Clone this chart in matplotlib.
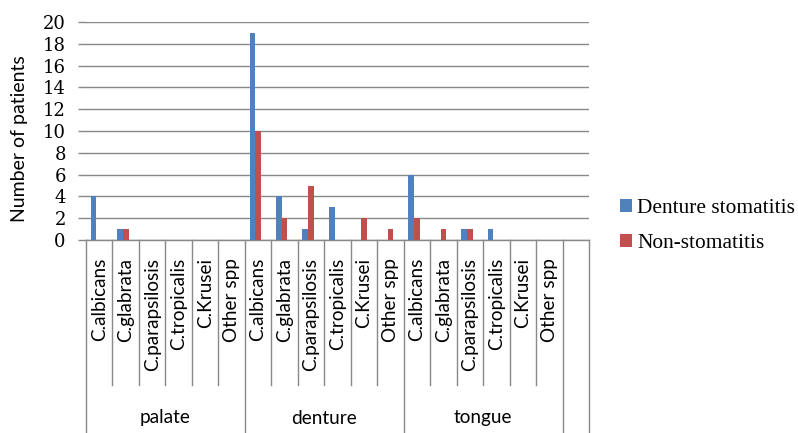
import matplotlib
matplotlib.use("Agg")
import matplotlib.pyplot as plt
import matplotlib.transforms as mtransforms
import numpy as np

# sites and species on the two-level category axis
sites = ["palate", "denture", "tongue"]
species = ["C.albicans", "C.glabrata", "C.parapsilosis", "C.tropicalis", "C.Krusei", "Other spp"]

# patient counts per site, species in the order above
denture_stomatitis = [4, 1, 0, 0, 0, 0,
                      19, 4, 1, 3, 0, 0,
                      6, 0, 1, 1, 0, 0]
non_stomatitis = [0, 1, 0, 0, 0, 0,
                  10, 2, 5, 0, 2, 1,
                  2, 1, 1, 0, 0, 0]

W, H = 798, 433
fig = plt.figure(figsize=(W / 100, H / 100), dpi=100)
ax = fig.add_axes([86 / W, 193 / H, (589 - 86) / W, (411 - 193) / H])

grey = "#898989"
blue = "#4F81BD"
red = "#C0504D"

n = len(species) * len(sites) + 1  # one blank slot at the end
x = np.arange(len(denture_stomatitis))
bw = 0.215
ax.bar(x - bw, denture_stomatitis, width=bw, color=blue, label="Denture stomatitis", zorder=3)
ax.bar(x, non_stomatitis, width=bw, color=red, label="Non-stomatitis", zorder=3)

ax.set_xlim(-0.5, n - 0.5)
ax.set_ylim(0, 20)
ax.set_yticks(np.arange(0, 21, 2))
ax.yaxis.grid(True, color=grey, linewidth=1.0)
ax.set_axisbelow(True)
for s in ["top", "right", "bottom", "left"]:
    ax.spines[s].set_visible(False)
ax.set_xticks([])
ax.tick_params(axis="y", length=6, color=grey, width=1.0, pad=8.5)
for lab in ax.get_yticklabels():
    lab.set_fontfamily("DejaVu Serif")
    lab.set_fontsize(13)
fig.text(20 / W, 1 - 138.5 / H, "Number of patients", rotation=90, ha="center", va="center",
         fontfamily="Lato", fontsize=14)

# two-level category axis drawn below the plot
trans = mtransforms.blended_transform_factory(ax.transData, fig.transFigure)
y0 = (H - 240) / H
y_mid = (H - 385) / H
ax.plot([-0.5, n - 0.5], [y0, y0], transform=trans, color=grey, lw=1.0, clip_on=False)
for i in range(n + 1):
    xb = i - 0.5
    full = (i % len(species) == 0) or i == n
    ax.plot([xb, xb], [y0, 0 if full else y_mid], transform=trans,
            color=grey, lw=1.0, clip_on=False)

for i in range(len(denture_stomatitis)):
    ax.text(i, (H - 258) / H, species[i % len(species)], transform=trans,
            rotation=90, ha="center", va="top", fontfamily="Lato", fontsize=13.6)
for j, site in enumerate(sites):
    xc = j * len(species) + (len(species) - 1) / 2
    ax.text(xc, (H - 418) / H, site, transform=trans, ha="center", va="center",
            fontfamily="Lato", fontsize=13.7)

leg = fig.legend(loc="center left", bbox_to_anchor=(601 / W, 1 - 226 / H), frameon=False,
                 prop={"family": "Liberation Serif", "size": 15.4}, handlelength=0.55,
                 handleheight=0.55, handletextpad=0.25, labelspacing=0.75, borderpad=0.4)

fig.savefig("out.png", dpi=100)
